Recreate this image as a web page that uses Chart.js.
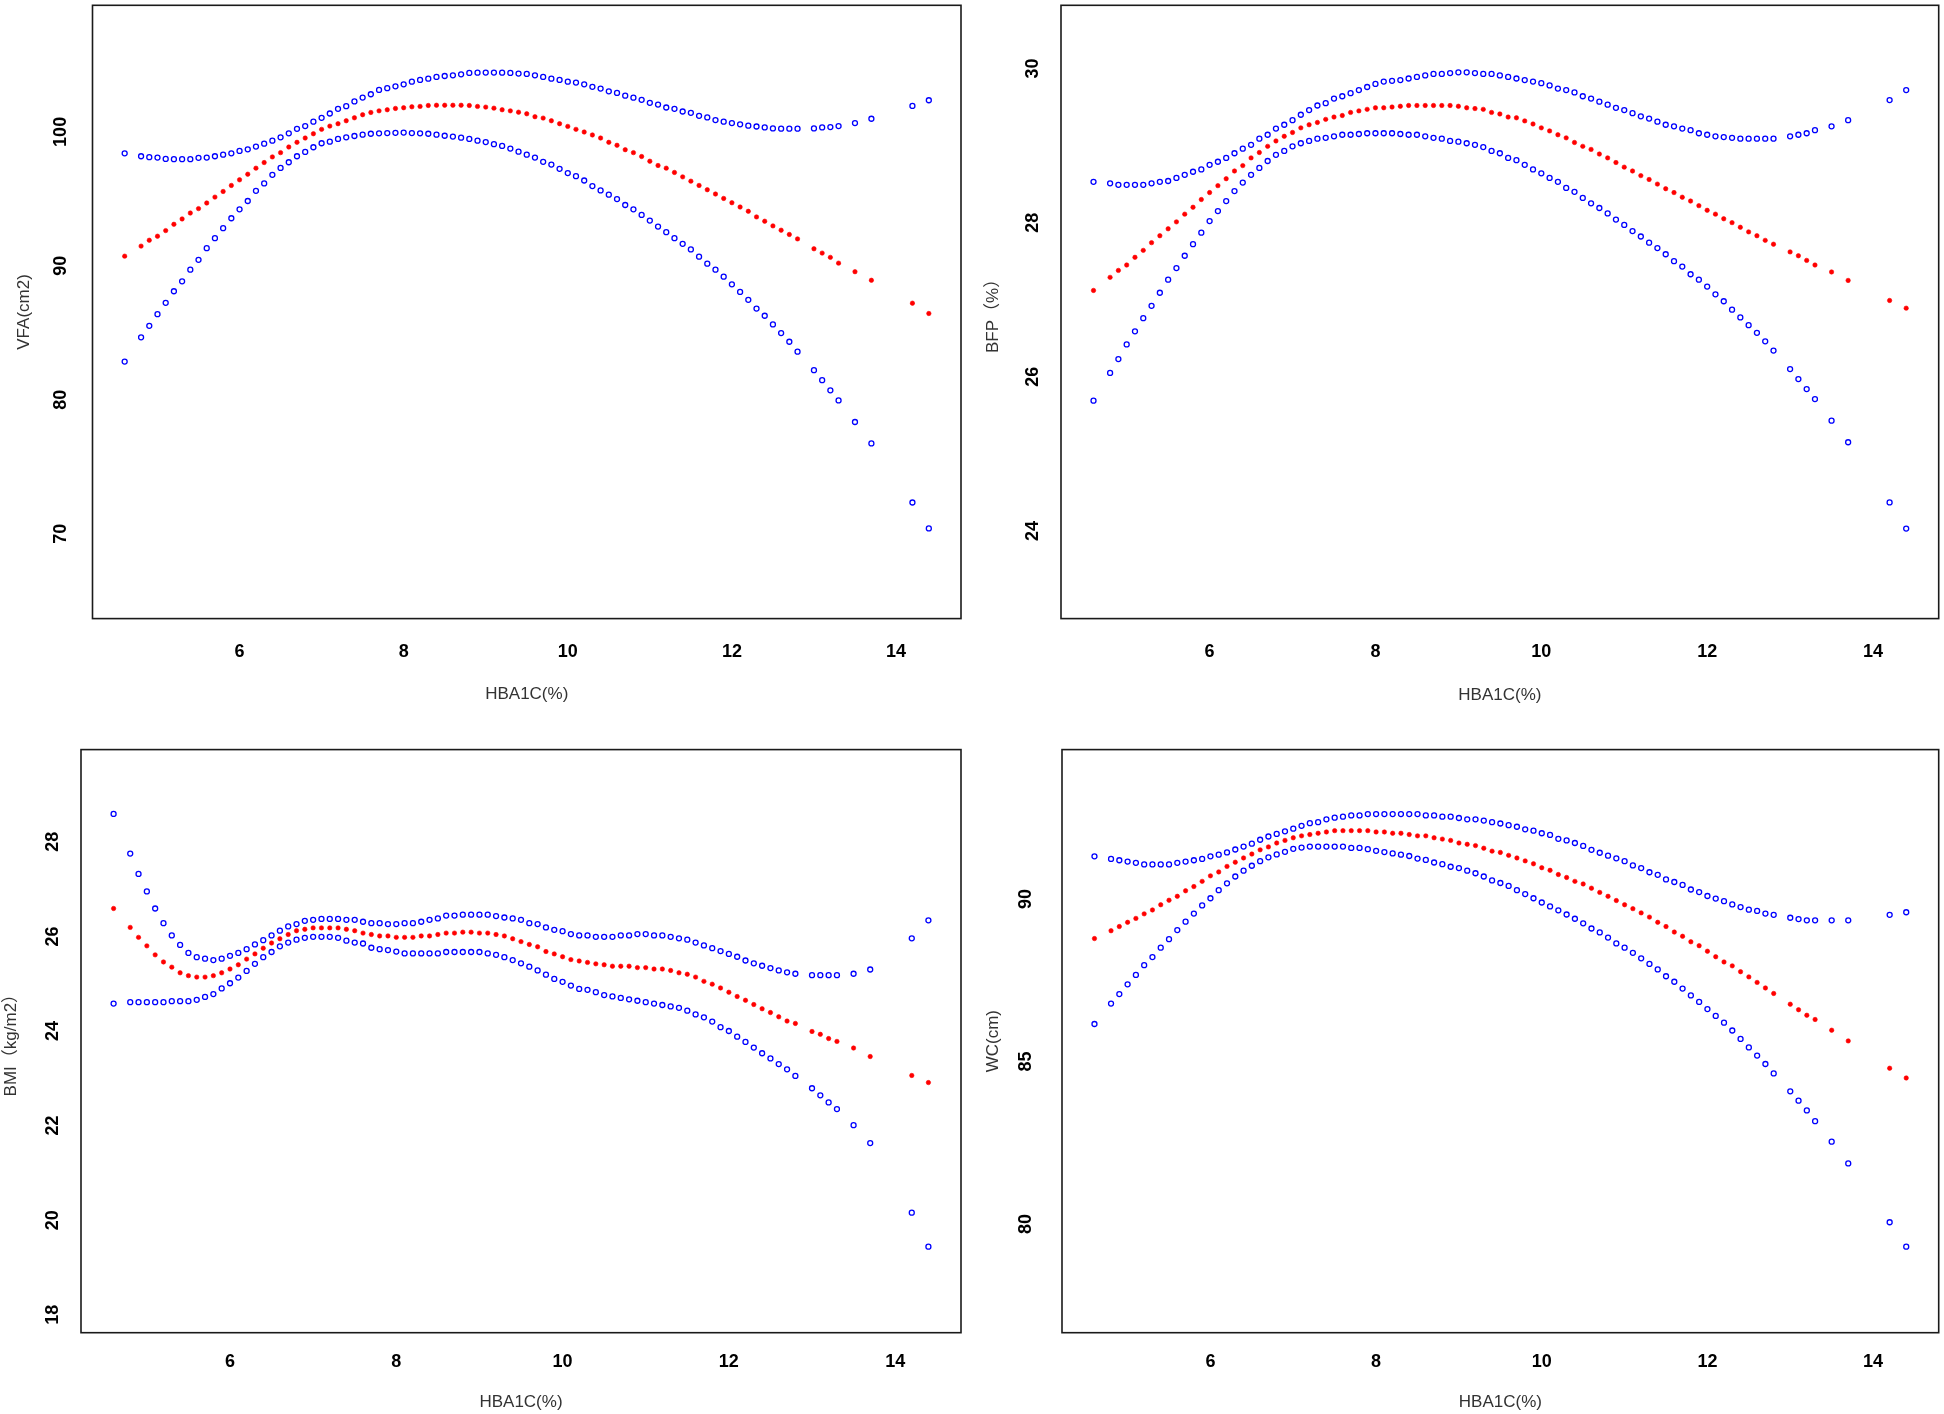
<!DOCTYPE html>
<html>
<head>
<meta charset="utf-8">
<title>HBA1C smooth curves</title>
<script src="https://cdn.jsdelivr.net/npm/chart.js@4.4.1/dist/chart.umd.min.js"></script>
<style>
  body { margin: 0; background: #fff; }
  #page { position: relative; width: 1944px; height: 1414px; background: #fff; }
  .panel { position: absolute; }
</style>
</head>
<body>
<div id="page">
  <div class="panel" style="left:0;top:0;"><canvas id="c1" width="975" height="710"></canvas></div>
  <div class="panel" style="left:975px;top:0;"><canvas id="c2" width="969" height="710"></canvas></div>
  <div class="panel" style="left:0;top:710px;"><canvas id="c3" width="975" height="704"></canvas></div>
  <div class="panel" style="left:975px;top:710px;"><canvas id="c4" width="969" height="704"></canvas></div>
</div>
<script>
// HbA1c grid shared by all four panels
var hba1c = [
  4.6, 4.8, 4.9, 5.0, 5.1, 5.2, 5.3, 5.4, 5.5, 5.6,
  5.7, 5.8, 5.9, 6.0, 6.1, 6.2, 6.3, 6.4, 6.5, 6.6,
  6.7, 6.8, 6.9, 7.0, 7.1, 7.2, 7.3, 7.4, 7.5, 7.6,
  7.7, 7.8, 7.9, 8.0, 8.1, 8.2, 8.3, 8.4, 8.5, 8.6,
  8.7, 8.8, 8.9, 9.0, 9.1, 9.2, 9.3, 9.4, 9.5, 9.6,
  9.7, 9.8, 9.9, 10.0, 10.1, 10.2, 10.3, 10.4, 10.5, 10.6,
  10.7, 10.8, 10.9, 11.0, 11.1, 11.2, 11.3, 11.4, 11.5, 11.6,
  11.7, 11.8, 11.9, 12.0, 12.1, 12.2, 12.3, 12.4, 12.5, 12.6,
  12.7, 12.8, 13.0, 13.1, 13.2, 13.3, 13.5, 13.7, 14.2, 14.4
];

// VFA (cm2)
var vfaUpper = [
  98.40, 98.18, 98.11, 98.08, 97.98, 97.96, 97.96, 97.96, 98.06, 98.08,
  98.18, 98.30, 98.40, 98.58, 98.70, 98.90, 99.12, 99.34, 99.59, 99.89,
  100.23, 100.43, 100.76, 101.05, 101.37, 101.72, 101.92, 102.27, 102.56, 102.81,
  103.13, 103.26, 103.40, 103.55, 103.75, 103.88, 103.97, 104.10, 104.17, 104.22,
  104.30, 104.40, 104.42, 104.43, 104.43, 104.42, 104.40, 104.35, 104.33, 104.22,
  104.10, 103.97, 103.88, 103.75, 103.68, 103.55, 103.36, 103.23, 103.03, 102.91,
  102.70, 102.55, 102.39, 102.17, 102.04, 101.82, 101.72, 101.52, 101.42, 101.20,
  101.08, 100.88, 100.76, 100.66, 100.56, 100.46, 100.40, 100.33, 100.26, 100.24,
  100.24, 100.24, 100.26, 100.33, 100.36, 100.43, 100.66, 100.98, 101.94, 102.36
];
var vfaFit = [
  90.72, 91.47, 91.91, 92.21, 92.63, 93.10, 93.50, 93.94, 94.27, 94.69,
  95.13, 95.55, 96.00, 96.42, 96.84, 97.29, 97.71, 98.13, 98.45, 98.87,
  99.22, 99.54, 99.86, 100.19, 100.43, 100.61, 100.83, 101.05, 101.28, 101.45,
  101.57, 101.65, 101.75, 101.80, 101.87, 101.90, 101.97, 101.99, 101.99, 101.99,
  101.99, 101.97, 101.90, 101.85, 101.77, 101.65, 101.57, 101.47, 101.35, 101.13,
  101.03, 100.83, 100.61, 100.41, 100.19, 99.99, 99.77, 99.54, 99.22, 99.00,
  98.67, 98.45, 98.16, 97.81, 97.49, 97.29, 96.97, 96.64, 96.32, 96.00,
  95.68, 95.36, 95.03, 94.71, 94.39, 94.07, 93.65, 93.33, 92.98, 92.66,
  92.34, 92.01, 91.27, 90.95, 90.63, 90.20, 89.56, 88.92, 87.21, 86.44
];
var vfaLower = [
  82.85, 84.66, 85.52, 86.39, 87.24, 88.10, 88.84, 89.71, 90.45, 91.32,
  92.06, 92.81, 93.55, 94.22, 94.84, 95.60, 96.15, 96.79, 97.31, 97.73,
  98.18, 98.50, 98.85, 99.15, 99.27, 99.47, 99.59, 99.69, 99.79, 99.86,
  99.89, 99.91, 99.93, 99.95, 99.91, 99.89, 99.86, 99.79, 99.71, 99.65,
  99.57, 99.47, 99.34, 99.24, 99.08, 98.95, 98.75, 98.52, 98.30, 98.08,
  97.76, 97.56, 97.24, 96.92, 96.69, 96.37, 95.95, 95.63, 95.31, 94.98,
  94.54, 94.22, 93.80, 93.38, 92.93, 92.51, 92.06, 91.64, 91.22, 90.68,
  90.16, 89.71, 89.19, 88.62, 88.05, 87.46, 86.81, 86.27, 85.62, 84.98,
  84.33, 83.59, 82.21, 81.46, 80.70, 79.95, 78.34, 76.74, 72.33, 70.39
];

// BFP (%)
var bfpUpper = [
  28.53, 28.51, 28.49, 28.49, 28.49, 28.49, 28.51, 28.53, 28.54, 28.58,
  28.62, 28.66, 28.69, 28.75, 28.79, 28.84, 28.90, 28.96, 29.01, 29.09,
  29.14, 29.22, 29.27, 29.33, 29.40, 29.46, 29.52, 29.55, 29.61, 29.64,
  29.68, 29.72, 29.76, 29.80, 29.83, 29.84, 29.85, 29.87, 29.89, 29.91,
  29.93, 29.93, 29.94, 29.95, 29.95, 29.94, 29.93, 29.93, 29.91, 29.89,
  29.87, 29.85, 29.83, 29.81, 29.78, 29.74, 29.72, 29.69, 29.64, 29.61,
  29.57, 29.53, 29.49, 29.46, 29.42, 29.38, 29.35, 29.31, 29.27, 29.25,
  29.22, 29.20, 29.16, 29.14, 29.12, 29.11, 29.10, 29.09, 29.09, 29.09,
  29.09, 29.09, 29.12, 29.14, 29.16, 29.20, 29.25, 29.33, 29.59, 29.72
];
var bfpFit = [
  27.12, 27.29, 27.38, 27.45, 27.55, 27.64, 27.74, 27.83, 27.92, 28.01,
  28.11, 28.20, 28.30, 28.39, 28.48, 28.57, 28.67, 28.74, 28.84, 28.91,
  28.99, 29.06, 29.12, 29.17, 29.23, 29.27, 29.30, 29.34, 29.37, 29.39,
  29.43, 29.45, 29.47, 29.49, 29.49, 29.50, 29.51, 29.52, 29.52, 29.52,
  29.52, 29.52, 29.52, 29.51, 29.49, 29.48, 29.47, 29.43, 29.41, 29.37,
  29.36, 29.32, 29.28, 29.23, 29.19, 29.14, 29.10, 29.04, 28.99, 28.95,
  28.89, 28.84, 28.78, 28.72, 28.67, 28.61, 28.56, 28.50, 28.44, 28.39,
  28.33, 28.28, 28.22, 28.16, 28.11, 28.05, 28.00, 27.94, 27.88, 27.83,
  27.77, 27.72, 27.62, 27.57, 27.51, 27.45, 27.36, 27.25, 26.99, 26.89
];
var bfpLower = [
  25.69, 26.05, 26.23, 26.42, 26.59, 26.76, 26.92, 27.09, 27.26, 27.41,
  27.57, 27.72, 27.87, 28.02, 28.15, 28.28, 28.41, 28.52, 28.62, 28.71,
  28.80, 28.88, 28.93, 28.99, 29.03, 29.06, 29.09, 29.10, 29.12, 29.14,
  29.14, 29.15, 29.16, 29.16, 29.16, 29.16, 29.15, 29.14, 29.14, 29.12,
  29.10, 29.09, 29.06, 29.05, 29.03, 29.01, 28.98, 28.93, 28.90, 28.84,
  28.81, 28.75, 28.69, 28.64, 28.58, 28.53, 28.45, 28.40, 28.32, 28.25,
  28.19, 28.12, 28.04, 27.97, 27.89, 27.82, 27.74, 27.67, 27.59, 27.50,
  27.43, 27.33, 27.26, 27.17, 27.07, 26.98, 26.87, 26.77, 26.67, 26.57,
  26.46, 26.34, 26.10, 25.97, 25.84, 25.71, 25.43, 25.15, 24.37, 24.03
];

// BMI (kg/m2)
var bmiUpper = [
  28.59, 27.75, 27.32, 26.95, 26.59, 26.28, 26.02, 25.82, 25.65, 25.56,
  25.53, 25.50, 25.53, 25.59, 25.65, 25.73, 25.83, 25.92, 26.02, 26.12,
  26.21, 26.26, 26.33, 26.35, 26.37, 26.37, 26.37, 26.35, 26.35, 26.31,
  26.28, 26.28, 26.26, 26.26, 26.28, 26.28, 26.31, 26.35, 26.38, 26.44,
  26.44, 26.46, 26.46, 26.46, 26.46, 26.43, 26.40, 26.38, 26.35, 26.28,
  26.26, 26.19, 26.14, 26.11, 26.05, 26.02, 26.02, 25.99, 25.99, 25.99,
  26.02, 26.02, 26.05, 26.05, 26.02, 26.02, 25.99, 25.96, 25.93, 25.87,
  25.81, 25.75, 25.69, 25.63, 25.57, 25.49, 25.43, 25.38, 25.33, 25.28,
  25.24, 25.21, 25.18, 25.18, 25.18, 25.18, 25.21, 25.30, 25.96, 26.34
];
var bmiFit = [
  26.59, 26.19, 25.98, 25.80, 25.61, 25.46, 25.35, 25.23, 25.17, 25.14,
  25.14, 25.17, 25.23, 25.31, 25.40, 25.52, 25.63, 25.75, 25.86, 25.95,
  26.04, 26.12, 26.15, 26.18, 26.18, 26.18, 26.18, 26.15, 26.12, 26.07,
  26.04, 26.01, 26.01, 25.98, 25.98, 25.98, 26.01, 26.01, 26.04, 26.07,
  26.07, 26.09, 26.09, 26.07, 26.07, 26.04, 26.01, 25.95, 25.89, 25.83,
  25.78, 25.68, 25.63, 25.57, 25.51, 25.48, 25.45, 25.42, 25.40, 25.37,
  25.37, 25.37, 25.34, 25.34, 25.31, 25.31, 25.28, 25.23, 25.20, 25.14,
  25.05, 24.99, 24.91, 24.82, 24.73, 24.65, 24.56, 24.47, 24.39, 24.30,
  24.21, 24.16, 23.99, 23.93, 23.84, 23.78, 23.64, 23.46, 23.06, 22.91
];
var bmiLower = [
  24.58, 24.61, 24.61, 24.61, 24.61, 24.61, 24.63, 24.63, 24.63, 24.66,
  24.72, 24.78, 24.90, 25.01, 25.13, 25.27, 25.42, 25.56, 25.67, 25.79,
  25.87, 25.93, 25.97, 25.99, 25.99, 25.99, 25.97, 25.91, 25.87, 25.85,
  25.76, 25.73, 25.71, 25.68, 25.64, 25.64, 25.64, 25.64, 25.64, 25.67,
  25.67, 25.67, 25.67, 25.67, 25.64, 25.61, 25.56, 25.50, 25.43, 25.36,
  25.28, 25.19, 25.10, 25.04, 24.96, 24.89, 24.87, 24.82, 24.76, 24.73,
  24.70, 24.67, 24.64, 24.61, 24.58, 24.55, 24.52, 24.49, 24.43, 24.35,
  24.29, 24.20, 24.08, 24.00, 23.88, 23.77, 23.65, 23.53, 23.42, 23.30,
  23.19, 23.05, 22.79, 22.64, 22.49, 22.35, 22.01, 21.63, 20.16, 19.44
];

// WC (cm)
var wcUpper = [
  91.31, 91.23, 91.19, 91.15, 91.11, 91.06, 91.06, 91.06, 91.06, 91.11,
  91.15, 91.19, 91.23, 91.31, 91.36, 91.43, 91.52, 91.61, 91.70, 91.82,
  91.92, 92.00, 92.08, 92.16, 92.25, 92.33, 92.36, 92.45, 92.50, 92.53,
  92.57, 92.57, 92.61, 92.61, 92.61, 92.61, 92.61, 92.61, 92.61, 92.57,
  92.57, 92.53, 92.53, 92.49, 92.45, 92.45, 92.41, 92.36, 92.32, 92.27,
  92.22, 92.14, 92.10, 92.02, 91.97, 91.85, 91.80, 91.72, 91.63, 91.51,
  91.42, 91.33, 91.25, 91.16, 91.03, 90.95, 90.82, 90.74, 90.60, 90.52,
  90.43, 90.29, 90.21, 90.09, 90.01, 89.93, 89.83, 89.75, 89.67, 89.63,
  89.55, 89.51, 89.42, 89.38, 89.34, 89.34, 89.34, 89.34, 89.51, 89.59
];
var wcFit = [
  88.78, 89.02, 89.15, 89.28, 89.40, 89.54, 89.66, 89.82, 89.96, 90.08,
  90.25, 90.38, 90.54, 90.71, 90.83, 91.00, 91.13, 91.26, 91.38, 91.51,
  91.60, 91.72, 91.80, 91.88, 91.94, 91.98, 92.02, 92.06, 92.10, 92.10,
  92.10, 92.10, 92.10, 92.06, 92.06, 92.02, 92.02, 91.98, 91.94, 91.94,
  91.88, 91.84, 91.80, 91.72, 91.68, 91.64, 91.56, 91.47, 91.43, 91.34,
  91.26, 91.17, 91.08, 90.96, 90.88, 90.75, 90.66, 90.54, 90.46, 90.33,
  90.20, 90.08, 89.95, 89.82, 89.70, 89.57, 89.44, 89.28, 89.15, 88.98,
  88.85, 88.68, 88.56, 88.39, 88.22, 88.06, 87.94, 87.76, 87.60, 87.43,
  87.26, 87.09, 86.76, 86.59, 86.42, 86.29, 85.96, 85.63, 84.79, 84.49
];
var wcLower = [
  86.15, 86.78, 87.07, 87.37, 87.66, 87.96, 88.21, 88.50, 88.76, 89.04,
  89.30, 89.55, 89.80, 90.02, 90.27, 90.48, 90.69, 90.87, 91.02, 91.16,
  91.28, 91.37, 91.45, 91.54, 91.58, 91.61, 91.61, 91.61, 91.61, 91.61,
  91.57, 91.57, 91.53, 91.48, 91.44, 91.40, 91.36, 91.32, 91.24, 91.20,
  91.12, 91.07, 90.99, 90.95, 90.87, 90.79, 90.69, 90.57, 90.49, 90.40,
  90.27, 90.15, 90.02, 89.89, 89.77, 89.65, 89.52, 89.39, 89.25, 89.09,
  88.97, 88.81, 88.63, 88.50, 88.34, 88.17, 88.00, 87.83, 87.62, 87.45,
  87.24, 87.03, 86.83, 86.61, 86.40, 86.19, 85.95, 85.69, 85.43, 85.18,
  84.92, 84.63, 84.08, 83.79, 83.49, 83.16, 82.53, 81.86, 80.05, 79.30
];

// tick labels
var xTicks = [6, 8, 10, 12, 14];
var vfaTicks = [70, 80, 90, 100];
var bfpTicks = [24, 26, 28, 30];
var bmiTicks = [18, 20, 22, 24, 26, 28];
var wcTicks = [80, 85, 90];

var xTitle = 'HBA1C(%)';

function pts(ys) {
  return hba1c.map(function(x, i) { return { x: x, y: ys[i] }; });
}

// base-R look: box, rotated y labels, no grid
var rFrame = {
  id: 'rFrame',
  afterDraw: function(chart, args, o) {
    var ctx = chart.ctx, a = chart.chartArea;
    var xs = chart.scales.x, ys = chart.scales.y;
    ctx.save();
    ctx.strokeStyle = '#1a1a1a';
    ctx.lineWidth = 1.6;
    ctx.strokeRect(a.left, a.top, a.right - a.left, a.bottom - a.top);

    ctx.fillStyle = '#000';
    ctx.font = 'bold 18px "Liberation Sans", Arial, sans-serif';
    ctx.textAlign = 'center';
    ctx.textBaseline = 'middle';
    xs.ticks.forEach(function(t) {
      ctx.fillText(String(t.value), xs.getPixelForValue(t.value), o.xTickY);
    });
    ys.ticks.forEach(function(t) {
      ctx.save();
      ctx.translate(o.yTickX, ys.getPixelForValue(t.value));
      ctx.rotate(-Math.PI / 2);
      ctx.fillText(String(t.value), 0, 0);
      ctx.restore();
    });

    ctx.fillStyle = '#333';
    ctx.font = '17px "Liberation Sans", Arial, "Noto Sans CJK SC", sans-serif';
    ctx.fillText(o.xTitle, (a.left + a.right) / 2, o.xTitleY);
    ctx.save();
    ctx.translate(o.yTitleX, (a.top + a.bottom) / 2);
    ctx.rotate(-Math.PI / 2);
    ctx.fillText(o.yTitle, 0, 0);
    ctx.restore();
    ctx.restore();
  }
};

function makePanel(id, upper, fit, lower, yMin, yMax, yTicks, pad, txt) {
  var ctx = document.getElementById(id);
  var config = {
    type: 'scatter',
    data: {
      datasets: [{
        label: 'fit',
        data: pts(fit),
        pointRadius: 2.2,
        pointBorderWidth: 0.6,
        backgroundColor: '#ff0000',
        borderColor: '#ff0000'
      }, {
        label: 'upper',
        data: pts(upper),
        pointRadius: 2.5,
        pointBorderWidth: 1.3,
        backgroundColor: 'rgba(0,0,0,0)',
        borderColor: '#0000ff'
      }, {
        label: 'lower',
        data: pts(lower),
        pointRadius: 2.5,
        pointBorderWidth: 1.3,
        backgroundColor: 'rgba(0,0,0,0)',
        borderColor: '#0000ff'
      }]
    },
    options: {
      responsive: false,
      devicePixelRatio: 1,
      animation: false,
      events: [],
      layout: { padding: pad },
      plugins: {
        legend: { display: false },
        tooltip: { enabled: false },
        rFrame: txt
      },
      scales: {
        x: {
          type: 'linear',
          display: false,
          min: 4.208,
          max: 14.792,
          afterBuildTicks: function(s) {
            s.ticks = xTicks.map(function(v) { return { value: v }; });
          }
        },
        y: {
          type: 'linear',
          display: false,
          min: yMin,
          max: yMax,
          afterBuildTicks: function(s) {
            s.ticks = yTicks.map(function(v) { return { value: v }; });
          }
        }
      }
    },
    plugins: [rFrame]
  };
  return new Chart(ctx, config);
}

makePanel('c1', vfaUpper, vfaFit, vfaLower, 63.66, 109.45, vfaTicks,
  { left: 92.5, top: 2.3, right: 14, bottom: 91.4 },
  { xTickY: 652, xTitleY: 694, yTickX: 61, yTitleX: 24, xTitle: xTitle, yTitle: 'VFA(cm2)' });

makePanel('c2', bfpUpper, bfpFit, bfpLower, 22.862, 30.82, bfpTicks,
  { left: 86, top: 2.3, right: 2.5, bottom: 91.4 },
  { xTickY: 652, xTitleY: 695, yTickX: 58, yTitleX: 18, xTitle: xTitle, yTitle: 'BFP（%）' });

makePanel('c3', bmiUpper, bmiFit, bmiLower, 17.622, 29.949, bmiTicks,
  { left: 81, top: 39.6, right: 14, bottom: 81.3 },
  { xTickY: 652, xTitleY: 692.5, yTickX: 53, yTitleX: 11, xTitle: xTitle, yTitle: 'BMI（kg/m2）' });

makePanel('c4', wcUpper, wcFit, wcLower, 76.652, 94.594, wcTicks,
  { left: 87, top: 39.6, right: 2.5, bottom: 81.3 },
  { xTickY: 652, xTitleY: 692, yTickX: 51.5, yTitleX: 18, xTitle: xTitle, yTitle: 'WC(cm)' });
</script>
</body>
</html>
